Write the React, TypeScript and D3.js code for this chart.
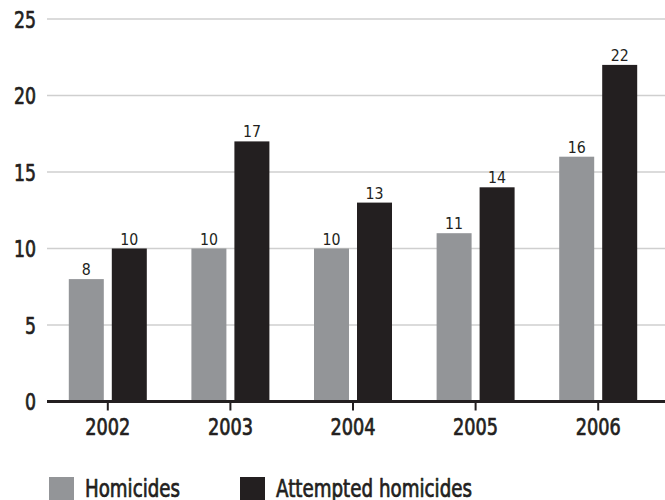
import { useEffect, useRef } from 'react';
import * as d3 from 'd3';

const years = ['2002', '2003', '2004', '2005', '2006'];
const homicides = [8, 10, 10, 11, 16];
const attempted = [10, 17, 13, 14, 22];
const yTicks = [0, 5, 10, 15, 20, 25];
const seriesNames = ['Homicides', 'Attempted homicides'];
const seriesColors = ['#939598', '#231f20'];

const FONT = '"DejaVu Sans Condensed", "Liberation Sans", sans-serif';
const INK = '#231f20';

// squeeze text to the narrow widths of the original condensed face
function fit(sel: any, w: (d: any) => number) {
  sel.attr('textLength', w).attr('lengthAdjust', 'spacingAndGlyphs');
}

// medium weight: regular face with a thin outline
function medium(sel: any, sw = 0.7) {
  sel.attr('stroke', INK).attr('stroke-width', sw).attr('stroke-linejoin', 'round');
}

export default function App() {
  const ref = useRef<SVGSVGElement>(null);

  useEffect(() => {
    if (!ref.current) return;
    const svg = d3.select(ref.current);
    svg.selectAll('*').remove();

    const x = d3.scaleBand().domain(years).range([46.5, 659.5]);
    const y = d3.scaleLinear().domain([0, 25]).range([401.5, 19]);

    // gridlines
    svg.append('g')
      .selectAll('line')
      .data(yTicks.filter((t) => t > 0))
      .join('line')
      .attr('x1', 47)
      .attr('x2', 665)
      .attr('y1', (d) => y(d))
      .attr('y2', (d) => y(d))
      .attr('stroke', '#cfcfcf')
      .attr('stroke-width', 1.5);

    // y tick labels
    const yl = svg.append('g')
      .selectAll('text')
      .data(yTicks)
      .join('text')
      .attr('x', 36)
      .attr('y', (d) => y(d) + 8.5)
      .attr('text-anchor', 'end')
      .attr('font-family', FONT)
      .attr('font-size', 23)
      .attr('fill', INK)
      .text((d) => d);
    fit(yl, (d) => String(d).length * 11);
    medium(yl);

    const series = [homicides, attempted];
    const barW = 35;
    const gap = 4;

    series.forEach((vals, si) => {
      const g = svg.append('g');
      const bx = (i: number) => {
        const c = x(years[i])! + x.bandwidth() / 2;
        return si === 0 ? c - gap - barW : c + gap;
      };
      g.selectAll('rect')
        .data(vals)
        .join('rect')
        .attr('x', (_, i) => bx(i))
        .attr('y', (d) => y(d))
        .attr('width', barW)
        .attr('height', (d) => y(0) - y(d))
        .attr('fill', seriesColors[si]);
      const vl = g.selectAll('text')
        .data(vals)
        .join('text')
        .attr('x', (_, i) => bx(i) + barW / 2)
        .attr('y', (d) => y(d) - 4)
        .attr('text-anchor', 'middle')
        .attr('font-family', FONT)
        .attr('font-size', 16)
        .attr('fill', INK)
        .text((d) => d);
      fit(vl, (d) => String(d).length * 9);
    });

    // x axis
    svg.append('line')
      .attr('x1', 47)
      .attr('x2', 665)
      .attr('y1', y(0))
      .attr('y2', y(0))
      .attr('stroke', INK)
      .attr('stroke-width', 3);

    const xa = svg.append('g');
    xa.selectAll('line')
      .data(years)
      .join('line')
      .attr('x1', (d) => x(d)! + x.bandwidth() / 2)
      .attr('x2', (d) => x(d)! + x.bandwidth() / 2)
      .attr('y1', y(0))
      .attr('y2', y(0) + 9)
      .attr('stroke', INK)
      .attr('stroke-width', 2);
    const xl = xa.selectAll('text')
      .data(years)
      .join('text')
      .attr('x', (d) => x(d)! + x.bandwidth() / 2)
      .attr('y', 435)
      .attr('text-anchor', 'middle')
      .attr('font-family', FONT)
      .attr('font-size', 23)
      .attr('fill', INK)
      .text((d) => d);
    fit(xl, () => 45);
    medium(xl);

    // legend
    const legendX = [49, 240];
    const legendW = [95, 196];
    const lg = svg.append('g');
    seriesNames.forEach((name, i) => {
      lg.append('rect')
        .attr('x', legendX[i])
        .attr('y', 477)
        .attr('width', 25)
        .attr('height', 25)
        .attr('fill', seriesColors[i]);
      const t = lg.append('text')
        .attr('x', legendX[i] + 36)
        .attr('y', 496.5)
        .attr('font-family', FONT)
        .attr('font-size', 24)
        .attr('fill', INK)
        .text(name);
      fit(t, () => legendW[i]);
      medium(t);
    });
  }, []);

  return (
    <svg
      ref={ref}
      width={665}
      height={500}
      style={{ position: 'absolute', left: 0, top: 0, background: '#fff' }}
    />
  );
}
